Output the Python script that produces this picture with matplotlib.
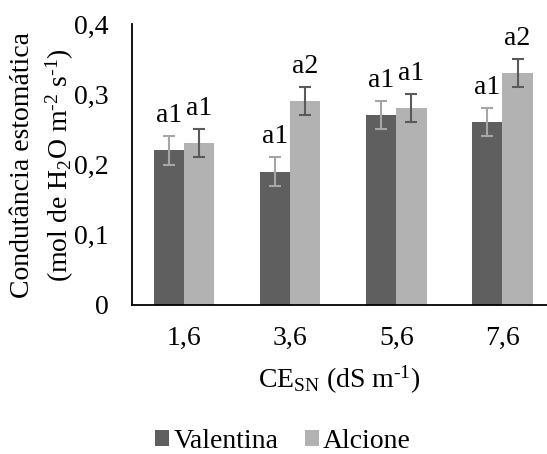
import matplotlib.pyplot as plt
import numpy as np

categorias = ['1,6', '3,6', '5,6', '7,6']
valentina = [0.22, 0.19, 0.27, 0.26]
alcione = [0.23, 0.29, 0.28, 0.33]
erro_valentina = [0.02, 0.02, 0.02, 0.02]
erro_alcione = [0.02, 0.02, 0.02, 0.02]
letras_valentina = ['a1', 'a1', 'a1', 'a1']
letras_alcione = ['a1', 'a2', 'a1', 'a2']

plt.rcParams['font.family'] = ['Liberation Serif', 'DejaVu Serif']
plt.rcParams['mathtext.fontset'] = 'custom'
plt.rcParams['mathtext.rm'] = 'Liberation Serif'
plt.rcParams['mathtext.it'] = 'Liberation Serif:italic'
plt.rcParams['font.size'] = 20

fig = plt.figure(figsize=(5.47, 4.54), dpi=100)
ax = fig.add_axes([132 / 547, (454 - 305) / 454, (547 - 132) / 547, (305 - 24) / 454])

x = np.arange(len(categorias))
w = 0.285

ax.bar(x - w / 2, valentina, w, color='#5f5f5f', label='Valentina')
ax.bar(x + w / 2, alcione, w, color='#b2b2b2', label='Alcione')
ax.errorbar(x - w / 2, valentina, yerr=erro_valentina, fmt='none',
            ecolor='#a6a6a6', elinewidth=1.5, capsize=4.5, capthick=1.5)
ax.errorbar(x + w / 2, alcione, yerr=erro_alcione, fmt='none',
            ecolor='#5a5a5a', elinewidth=1.5, capsize=4.5, capthick=1.5)

for i in range(len(categorias)):
    ax.text(x[i] - w / 2, valentina[i] + erro_valentina[i] + 0.012,
            letras_valentina[i], ha='center', va='bottom')
    ax.text(x[i] + w / 2, alcione[i] + erro_alcione[i] + 0.012,
            letras_alcione[i], ha='center', va='bottom')

ax.set_xlim(-0.49, 3.42)
ax.set_ylim(0, 0.4)
ax.set_yticks([0, 0.1, 0.2, 0.3, 0.4])
ax.set_yticklabels(['0', '0,1', '0,2', '0,3', '0,4'])
ax.set_xticks(x)
ax.set_xticklabels(categorias)
ax.tick_params(axis='y', length=0, pad=17)
ax.tick_params(axis='x', length=0, pad=15)

for s in ['top', 'right']:
    ax.spines[s].set_visible(False)
ax.spines['left'].set_linewidth(1.3)
ax.spines['bottom'].set_linewidth(1.3)

fig.text(43 / 547, 1 - 165 / 454,
         'Condutância estomática\n(mol de H$_2$O m$^{\u2010 2}$ s$^{\u20101}$)',
         rotation=90, ha='center', va='center', linespacing=1.33)
ax.set_xlabel('CE$_{\\mathrm{SN}}$ (dS m$^{\u20101}$)', labelpad=9)

fig.legend(loc='center', bbox_to_anchor=(283 / 547, 1 - 441 / 454), ncol=2,
           frameon=False, handlelength=0.5, handleheight=0.5,
           handletextpad=0.15, columnspacing=0.95)

fig.savefig('out.png', dpi=100)
